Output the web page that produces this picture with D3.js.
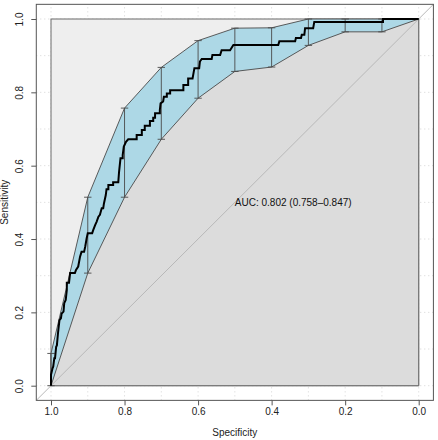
<!DOCTYPE html>
<html>
<head>
<meta charset="utf-8">
<script src="https://cdn.jsdelivr.net/npm/d3@7"></script>
<style>
  html, body { margin: 0; padding: 0; background: #ffffff; }
  svg { display: block; font-family: "Liberation Sans", Arial, Helvetica, sans-serif; }
</style>
</head>
<body>
<svg id="chart" width="438" height="440"></svg>
<script>
// ---- data ----
const tickValues = [1.0, 0.8, 0.6, 0.4, 0.2, 0.0];
const tickLabels = ["1.0", "0.8", "0.6", "0.4", "0.2", "0.0"];
const gridValues = [0, 0.1, 0.2, 0.3, 0.4, 0.5, 0.6, 0.7, 0.8, 0.9, 1.0];

// empirical ROC curve (specificity, sensitivity) vertices
const rocSpec = [1.000, 1.000, 0.996, 0.994, 0.991, 0.989, 0.986, 0.984, 0.981, 0.980, 0.977, 0.973, 0.971, 0.966, 0.964, 0.960, 0.957, 0.957, 0.951, 0.948, 0.935, 0.932, 0.926, 0.921, 0.917, 0.910, 0.907, 0.903, 0.900, 0.888, 0.885, 0.880, 0.876, 0.871, 0.867, 0.862, 0.858, 0.856, 0.851, 0.849, 0.844, 0.844, 0.831, 0.831, 0.817, 0.815, 0.811, 0.805, 0.805, 0.802, 0.796, 0.790, 0.767, 0.767, 0.753, 0.753, 0.745, 0.745, 0.731, 0.731, 0.722, 0.722, 0.717, 0.717, 0.704, 0.704, 0.702, 0.695, 0.693, 0.685, 0.685, 0.676, 0.676, 0.640, 0.640, 0.627, 0.627, 0.615, 0.610, 0.597, 0.595, 0.590, 0.563, 0.561, 0.540, 0.536, 0.513, 0.504, 0.382, 0.379, 0.336, 0.334, 0.320, 0.318, 0.311, 0.309, 0.287, 0.284, 0.097, 0.097, 0.000];
const rocSens = [0.000, 0.030, 0.047, 0.052, 0.075, 0.075, 0.106, 0.110, 0.143, 0.152, 0.179, 0.184, 0.197, 0.202, 0.225, 0.234, 0.261, 0.281, 0.281, 0.307, 0.307, 0.316, 0.325, 0.352, 0.365, 0.365, 0.379, 0.402, 0.416, 0.416, 0.425, 0.438, 0.447, 0.461, 0.466, 0.484, 0.484, 0.497, 0.520, 0.536, 0.536, 0.547, 0.547, 0.555, 0.555, 0.582, 0.620, 0.620, 0.629, 0.652, 0.665, 0.672, 0.672, 0.684, 0.684, 0.697, 0.697, 0.709, 0.709, 0.722, 0.722, 0.731, 0.731, 0.743, 0.743, 0.752, 0.770, 0.775, 0.788, 0.788, 0.797, 0.797, 0.806, 0.806, 0.820, 0.820, 0.838, 0.838, 0.866, 0.866, 0.884, 0.891, 0.891, 0.902, 0.902, 0.915, 0.915, 0.929, 0.929, 0.939, 0.939, 0.948, 0.948, 0.957, 0.957, 0.975, 0.975, 0.992, 0.992, 1.000, 1.000];

// confidence interval of sensitivity at fixed specificities
const ciSpec  = [1.0, 0.9, 0.8, 0.7, 0.6, 0.5, 0.4, 0.3, 0.2, 0.1, 0.0];
const ciLower = [0.000, 0.307, 0.514, 0.672, 0.784, 0.857, 0.869, 0.928, 0.965, 0.965, 1.000];
const ciUpper = [0.088, 0.514, 0.757, 0.868, 0.941, 0.975, 0.976, 1.000, 1.000, 1.000, 1.000];

const aucLabel = "AUC: 0.802 (0.758\u20130.847)";
const xTitle = "Specificity";
const yTitle = "Sensitivity";

// ---- drawing ----
const svg = d3.select("#chart");
const x = d3.scaleLinear().domain([1, 0]).range([51, 418.7]);
const y = d3.scaleLinear().domain([0, 1]).range([385.7, 19]);
const ext = 0.04;
const X0 = x(1 + ext), X1 = x(-ext), Y0 = y(-ext), Y1 = y(1 + ext);

svg.append("clipPath").attr("id", "plotclip")
  .append("rect").attr("x", X0).attr("y", Y1).attr("width", X1 - X0).attr("height", Y0 - Y1);

const plot = svg.append("g").attr("clip-path", "url(#plotclip)");

// grid
plot.selectAll(".gx").data(gridValues).join("line")
  .attr("x1", d => x(d)).attr("x2", d => x(d)).attr("y1", Y0).attr("y2", Y1)
  .attr("stroke", "#d4d4d4").attr("stroke-width", 1).attr("stroke-dasharray", "1,3");
plot.selectAll(".gy").data(gridValues).join("line")
  .attr("y1", d => y(d)).attr("y2", d => y(d)).attr("x1", X0).attr("x2", X1)
  .attr("stroke", "#d4d4d4").attr("stroke-width", 1).attr("stroke-dasharray", "1,3");

// max AUC polygon
plot.append("rect").attr("x", x(1)).attr("y", y(1)).attr("width", x(0) - x(1)).attr("height", y(0) - y(1))
  .attr("fill", "#eeeeee").attr("stroke", "#6a6a6a").attr("stroke-width", 1);

// AUC polygon
const rocPts = rocSpec.map((s, i) => [s, rocSens[i]]);
const aucPoly = rocPts.concat([[0, 0], [1, 0]]);
plot.append("path")
  .attr("d", d3.line().x(d => x(d[0])).y(d => y(d[1]))(aucPoly) + "Z")
  .attr("fill", "#dcdcdc").attr("stroke", "#6a6a6a").attr("stroke-width", 1);

// identity line
plot.append("line")
  .attr("x1", x(1 + ext)).attr("y1", y(-ext)).attr("x2", x(-ext)).attr("y2", y(1 + ext))
  .attr("stroke", "#b8b8b8").attr("stroke-width", 1);

// CI shape
const shape = ciSpec.map((s, i) => [s, ciUpper[i]])
  .concat(ciSpec.map((s, i) => [s, ciLower[i]]).reverse());
plot.append("path")
  .attr("d", d3.line().x(d => x(d[0])).y(d => y(d[1]))(shape) + "Z")
  .attr("fill", "#add8e6").attr("stroke", "#4a4a4a").attr("stroke-width", 0.9);

// CI bars
const bars = plot.append("g").attr("stroke", "#4a4a4a").attr("stroke-width", 0.9);
ciSpec.forEach((s, i) => {
  if (ciUpper[i] - ciLower[i] < 1e-6) return;
  const cx = x(s);
  bars.append("line").attr("x1", cx).attr("x2", cx).attr("y1", y(ciLower[i])).attr("y2", y(ciUpper[i]));
  bars.append("line").attr("x1", cx - 3.7).attr("x2", cx + 3.7).attr("y1", y(ciLower[i])).attr("y2", y(ciLower[i]));
  bars.append("line").attr("x1", cx - 3.7).attr("x2", cx + 3.7).attr("y1", y(ciUpper[i])).attr("y2", y(ciUpper[i]));
});

// ROC curve
plot.append("path")
  .attr("d", d3.line().x(d => x(d[0])).y(d => y(d[1]))(rocPts))
  .attr("fill", "none").attr("stroke", "#000").attr("stroke-width", 2).attr("stroke-linejoin", "miter");

// AUC text
svg.append("text").attr("x", x(0.5)).attr("y", y(0.5)).attr("dy", "0.35em")
  .attr("font-size", 10).attr("fill", "#111").text(aucLabel);

// outer box
svg.append("rect").attr("x", X0).attr("y", Y1).attr("width", X1 - X0).attr("height", Y0 - Y1)
  .attr("fill", "none").attr("stroke", "#555").attr("stroke-width", 1);

// axes
const xAxis = d3.axisBottom(x).tickValues(tickValues).tickFormat((d, i) => tickLabels[i]).tickSize(5).tickPadding(3);
const gx = svg.append("g").attr("transform", `translate(0,${Y0})`).call(xAxis);
gx.select(".domain").remove();
gx.selectAll("line").attr("stroke", "#555");
gx.selectAll("text").attr("font-size", 10).attr("fill", "#222").attr("font-family", "Liberation Sans, Arial, sans-serif");

const yAxis = d3.axisLeft(y).tickValues(tickValues).tickFormat((d, i) => tickLabels[i]).tickSize(5).tickPadding(3);
const gy = svg.append("g").attr("transform", `translate(${X0},0)`).call(yAxis);
gy.select(".domain").remove();
gy.selectAll("line").attr("stroke", "#555");
gy.selectAll("text").attr("font-size", 10).attr("fill", "#222").attr("font-family", "Liberation Sans, Arial, sans-serif")
  .attr("x", null).attr("dy", null)
  .attr("text-anchor", "middle")
  .attr("transform", "translate(-13,0) rotate(-90)")
  .attr("y", 0);

// titles
svg.append("text").attr("x", (X0 + X1) / 2).attr("y", 436).attr("text-anchor", "middle")
  .attr("font-size", 10).attr("fill", "#222").text(xTitle);
svg.append("text").attr("transform", `translate(8,${(Y0 + Y1) / 2}) rotate(-90)`).attr("text-anchor", "middle")
  .attr("font-size", 10).attr("fill", "#222").text(yTitle);
</script>
</body>
</html>
